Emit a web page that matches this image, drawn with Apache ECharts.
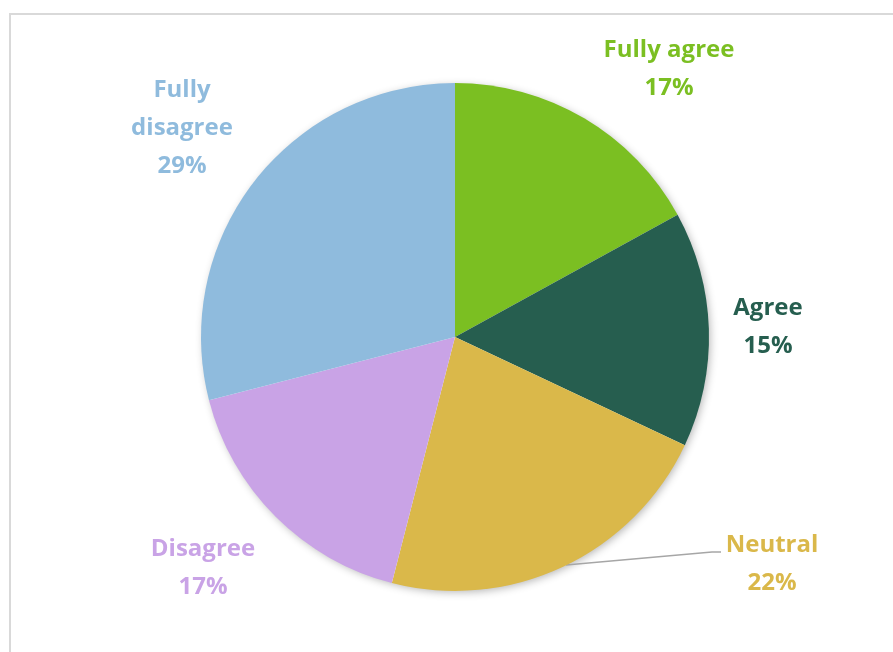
<!DOCTYPE html>
<html>
<head>
<meta charset="utf-8">
<script src="https://cdn.jsdelivr.net/npm/echarts@6/dist/echarts.min.js"></script>
<style>
    html, body { margin: 0; padding: 0; background: #fff; overflow: hidden; }
    .frame { position: absolute; left: 9px; top: 13px; width: 1000px; height: 1000px; border: 2px solid #d9d9d9; }
    #chart { position: absolute; left: 0; top: 0; width: 893px; height: 652px; }
</style>
</head>
<body>
<div class="frame"></div>
<div id="chart"></div>
<script>
    var categories = ['Fully agree', 'Agree', 'Neutral', 'Disagree', 'Fully disagree'];
    var values = [17, 15, 22, 17, 29];
    var colors = ['#7bbf22', '#265e4f', '#dab84a', '#c9a3e6', '#8fbbdd'];

    // label anchors (centre of text block) per slice
    var labelSpots = [[669, 69], [768, 327], [772, 564], [203, 568], [182, 128]];

    var chart = echarts.init(document.getElementById('chart'));
    var option = {
        animation: false,
        series: [{
            // soft shadow under the whole pie
            type: 'pie',
            silent: true,
            center: [455, 337],
            radius: [0, 253],
            label: { show: false },
            labelLine: { show: false },
            data: [{ value: 1, itemStyle: { color: '#ffffff' } }],
            itemStyle: {
                shadowBlur: 8,
                shadowOffsetX: 2,
                shadowOffsetY: 2,
                shadowColor: 'rgba(0,0,0,0.3)'
            },
            z: 1
        }, {
            type: 'pie',
            center: [455, 337],
            radius: [0, 254],
            startAngle: 90,
            clockwise: true,
            z: 2,
            data: categories.map(function (name, i) {
                return {
                    name: name,
                    value: values[i],
                    itemStyle: { color: colors[i] },
                    label: { color: colors[i] },
                    labelLine: { show: name === 'Neutral' }
                };
            }),
            label: {
                show: true,
                position: 'outside',
                fontFamily: 'Open Sans',
                fontWeight: 'bold',
                fontSize: 24,
                lineHeight: 38,
                align: 'center',
                formatter: function (p) {
                    var n = p.name === 'Fully disagree' ? 'Fully\ndisagree' : p.name;
                    return n + '\n' + p.percent + '%';
                }
            },
            labelLine: {
                lineStyle: { color: '#a6a6a6', width: 1.5 }
            },
            labelLayout: function (params) {
                var s = labelSpots[params.dataIndex];
                var out = { x: s[0], y: s[1], align: 'center', verticalAlign: 'middle' };
                if (params.dataIndex === 2) {
                    out.labelLinePoints = [[566, 565], [712, 552], [721, 552]];
                }
                return out;
            }
        }]
    };
    chart.setOption(option);
</script>
</body>
</html>
